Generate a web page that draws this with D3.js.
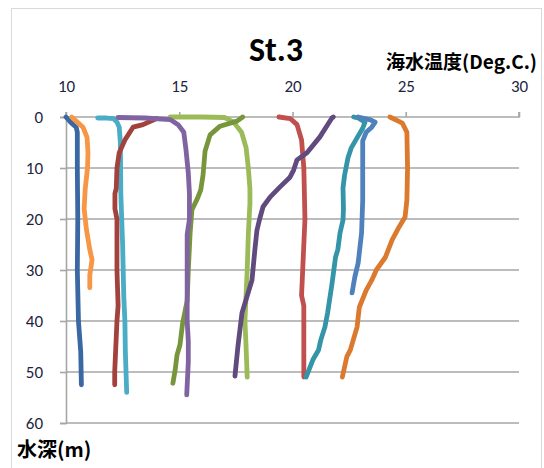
<!DOCTYPE html>
<html><head><meta charset="utf-8">
<script src="https://cdn.jsdelivr.net/npm/d3@7"></script>
<style>
html,body{margin:0;padding:0;background:#fff;}
svg{display:block;}
</style></head>
<body>
<svg id="c" width="544" height="468"></svg>
<script>
// ---- data: [depth (m), temperature (Deg.C.)] ----
const title = "St.3";
const xLabel = "海水温度(Deg.C.)";
const yLabel = "水深(m)";
const xTicks = [10, 15, 20, 25, 30];
const yTicks = [0, 10, 20, 30, 40, 50, 60];

const sDarkBlue = [[0,10.0],[1,10.2],[2,10.45],[3,10.5],[10,10.5],[20,10.52],[30,10.5],[40,10.55],[43,10.6],[46,10.65],[52.5,10.68]];
const sLightOrange = [[0,10.25],[1,10.5],[2,10.75],[4,10.93],[7,10.97],[10,10.95],[14,10.85],[18,10.8],[22,10.9],[26,11.05],[28,11.15],[31,11.05],[33.5,11.05]];
const sAqua = [[0.2,11.4],[0.2,11.8],[0.3,12.1],[1,12.25],[2,12.35],[5,12.4],[15,12.42],[25,12.5],[35,12.55],[40,12.6],[46,12.62],[54,12.68]];
const sDarkRed = [[0.3,14.0],[1.5,13.4],[2,12.96],[4.5,12.6],[7,12.35],[10,12.25],[14,12.22],[15,12.16],[18,12.16],[20,12.25],[30,12.25],[37,12.3],[40,12.25],[45,12.2],[50,12.15],[52.5,12.15]];
const sPurple = [[0.1,12.3],[0.2,13.5],[0.5,14.6],[1.5,14.95],[3,15.2],[6.5,15.3],[11,15.4],[15,15.45],[20,15.45],[23,15.35],[30,15.35],[40,15.35],[44,15.4],[48,15.4],[54.5,15.33]];
const sDarkGreen = [[0,17.8],[0.8,17.55],[1.8,16.8],[3.5,16.36],[6.7,16.14],[11.4,16.05],[14.3,15.95],[16,15.8],[18.2,15.56],[22.7,15.48],[30,15.4],[36,15.35],[40.4,15.15],[44.7,15.03],[46.7,14.9],[49.6,14.82],[52.2,14.72]];
const sLightGreen = [[0,14.6],[0,16.0],[0.1,17.0],[1,17.4],[3,17.75],[6,17.95],[10,18.05],[14,18.12],[17,18.12],[23,18.05],[30,18.0],[35,17.95],[40,17.9],[45,17.95],[51,18.0]];
const sRed = [[0,19.4],[0.3,19.9],[1.5,20.2],[4.5,20.4],[10,20.5],[20,20.55],[25,20.5],[30,20.45],[35,20.4],[37,20.5],[42,20.5],[51,20.5]];
const sDarkPurple = [[0,21.8],[0.2,21.74],[3.9,21.21],[7,20.64],[8.4,20.2],[10.4,20.05],[11.8,19.89],[13.7,19.45],[15.7,19.01],[17.6,18.7],[20,18.55],[22.2,18.43],[26,18.34],[32,18.21],[38.4,17.77],[45,17.59],[50.8,17.46]];
const sTeal = [[0,22.7],[0.2,22.9],[1,23.2],[2.2,23.1],[4.1,22.85],[6,22.6],[8,22.45],[11.4,22.3],[13.9,22.23],[18,22.25],[20.2,22.23],[22.7,22.1],[26,22.0],[27.5,21.9],[32.5,21.75],[38.4,21.55],[41.2,21.43],[43.7,21.25],[45.7,21.15],[47.6,20.9],[51,20.6]];
const sBlue = [[0,22.9],[0.5,23.4],[1,23.65],[2,23.5],[3,23.25],[4.7,23.1],[10,23.1],[16.3,23.1],[22.7,23.05],[28.6,22.9],[31.4,22.75],[34.5,22.63]];
const sDarkOrange = [[0,24.3],[1.2,24.85],[3,25.05],[10,25.08],[16.3,25.05],[19.6,24.97],[21.6,24.7],[24.1,24.4],[27.5,24.1],[30,23.7],[32,23.5],[34,23.25],[37.3,22.95],[41.2,22.85],[45.7,22.55],[47,22.4],[51,22.2]];

const seriesList = [
  {data: sDarkBlue, color: "#3A68A2"},
  {data: sLightOrange, color: "#F79646"},
  {data: sAqua, color: "#4BACC6"},
  {data: sDarkRed, color: "#A3413D"},
  {data: sLightGreen, color: "#9BBB59"},
  {data: sDarkGreen, color: "#77963C"},
  {data: sPurple, color: "#8064A2"},
  {data: sRed, color: "#C0504D"},
  {data: sDarkPurple, color: "#604A7E"},
  {data: sTeal, color: "#3494A8"},
  {data: sBlue, color: "#4F81BD"},
  {data: sDarkOrange, color: "#DB7A2E"}
];

// ---- layout ----
const svg = d3.select("#c");
const L = 66, R = 519, T = 117, B = 423;
const x = d3.scaleLinear().domain([10, 30]).range([L, R]);
const y = d3.scaleLinear().domain([0, 60]).range([T, B]);
const font = "Carlito, Calibri, Lato, 'Noto Sans', sans-serif";
const cjk = "'Noto Sans CJK JP', 'Noto Sans CJK SC', sans-serif";

// chart frame
svg.append("rect").attr("x", 11.5).attr("y", 8.5).attr("width", 530).attr("height", 480)
  .attr("fill", "#fff").attr("stroke", "#d9d9d9").attr("stroke-width", 1);

// gridlines
svg.append("g").selectAll("line").data(yTicks.filter(d => d > 0)).join("line")
  .attr("x1", L).attr("x2", R).attr("y1", d => y(d)).attr("y2", d => y(d))
  .attr("stroke", "#a6a6a6").attr("stroke-width", 1.6);

// axes
const gx = svg.append("g").attr("transform", `translate(0,${T})`)
  .call(d3.axisTop(x).tickValues(xTicks).tickSize(5).tickPadding(20).tickFormat(d3.format("d")));
const gy = svg.append("g").attr("transform", `translate(${L},0)`)
  .call(d3.axisLeft(y).tickValues(yTicks).tickSize(6).tickPadding(17).tickFormat(d3.format("d")));
[gx, gy].forEach(g => {
  g.select(".domain").attr("stroke", "#a6a6a6").attr("stroke-width", 1.6);
  g.selectAll(".tick line").attr("stroke", "#a6a6a6").attr("stroke-width", 1.6);
  g.selectAll(".tick text").attr("fill", "#1f1f3f").style("font-family", font).style("font-size", "17px");
});
gx.select(".domain").attr("d", `M${L},-5V0H${R}V-5`);

// lines
const line = d3.line().x(d => x(d[1])).y(d => y(d[0]));
svg.append("g").selectAll("path").data(seriesList).join("path")
  .attr("d", d => line(d.data))
  .attr("fill", "none").attr("stroke", d => d.color)
  .attr("stroke-width", 4.8).attr("stroke-linejoin", "round").attr("stroke-linecap", "round");

// texts
svg.append("text").attr("x", 276).attr("y", 61).attr("text-anchor", "middle")
  .style("font-family", font).style("font-weight", "bold").style("font-size", "34px").attr("fill", "#000")
  .text(title);
svg.append("text").attr("x", 537).attr("y", 69).attr("text-anchor", "end")
  .style("font-family", cjk).style("font-weight", "bold").style("font-size", "19px").attr("fill", "#000")
  .text(xLabel);
svg.append("text").attr("x", 17).attr("y", 457)
  .style("font-family", cjk).style("font-weight", "bold").style("font-size", "20px").attr("fill", "#000")
  .text(yLabel);
</script>
</body></html>
